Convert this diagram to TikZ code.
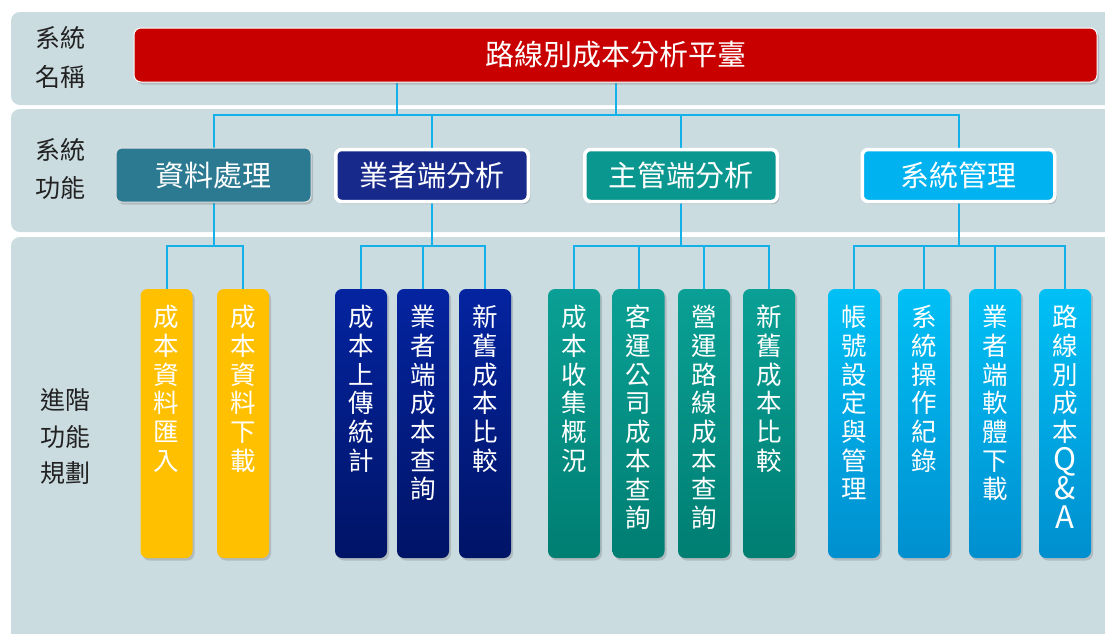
\documentclass[tikz,border=0pt]{standalone}
\usepackage{fontspec}
\newfontfamily\cjk{Noto Sans CJK TC}
\usetikzlibrary{shadows}
\definecolor{bandc}{HTML}{CBDCE1}
\definecolor{connc}{HTML}{14B0EA}
\definecolor{labc}{HTML}{222222}
\definecolor{redc}{HTML}{C90000}
\definecolor{lvA}{HTML}{2B7A92}
\definecolor{lvB}{HTML}{172A8C}
\definecolor{lvC}{HTML}{0A978F}
\definecolor{lvD}{HTML}{00B2F0}
\definecolor{yel}{HTML}{FFC000}
\definecolor{navyT}{HTML}{0424A0}
\definecolor{navyB}{HTML}{001466}
\definecolor{tealT}{HTML}{0AA095}
\definecolor{tealB}{HTML}{007E72}
\definecolor{skyT}{HTML}{00C0F5}
\definecolor{skyB}{HTML}{008FCF}
\pgfdeclarelayer{bg}
\pgfsetlayers{bg,main}
\newcommand\bigltr[1]{{\fontsize{31}{28.7}\selectfont #1}}
\tikzset{
  band/.style={fill=bandc, draw=none, rounded corners=9pt},
  conn/.style={draw=connc, line width=2pt},
  lab/.style={text=labc, align=center, inner sep=0pt},
  shad/.style={drop shadow={opacity=0.35, shadow xshift=2pt, shadow yshift=-2.5pt}},
  titlebox/.style={fill=redc, draw=white, line width=1pt, rounded corners=7pt,
    minimum width=963pt, minimum height=54pt, inner sep=0pt, text=white,
    font=\cjk\fontsize{29}{34}\selectfont, shad},
  lvtwo/.style={rounded corners=6pt, minimum height=54pt, inner sep=0pt, text=white,
    font=\cjk\fontsize{29}{34}\selectfont, shad},
  thick/.style={draw=white, line width=3.5pt, minimum width=192.5pt, minimum height=52pt},
  lvthree/.style={rounded corners=7pt, minimum width=52pt, minimum height=269pt, inner sep=0pt, shad},
  vtext/.style={font=\cjk\fontsize{25.5}{28.7}\selectfont, text=white, align=center,
    inner sep=0pt, anchor=north},
  yelbox/.style={lvthree, fill=yel},
  navybox/.style={lvthree, top color=navyT, bottom color=navyB},
  tealbox/.style={lvthree, top color=tealT, bottom color=tealB},
  skybox/.style={lvthree, top color=skyT, bottom color=skyB},
}
\begin{document}
\begin{tikzpicture}[x=1pt,y=-1pt]
\useasboundingbox (0,0) rectangle (1105,633);

% title
\node[titlebox] (top) at (615.5,55) {路線別成本分析平臺};

% level 2
\node[lvtwo, fill=lvA, draw=white!75!gray, line width=1pt, minimum width=195pt] (n1) at (213.5,175) {資料處理};
\node[lvtwo, thick, fill=lvB] (n2) at (432,175.5) {業者端分析};
\node[lvtwo, thick, fill=lvC] (n3) at (681,175.5) {主管端分析};
\node[lvtwo, thick, fill=lvD] (n4) at (958.5,175.5) {系統管理};

% level 3 boxes
\node[yelbox] (b1) at (166.5,423.5) {};
\node[yelbox] (b2) at (243,423.5) {};
\node[navybox] (b3) at (361,423.5) {};
\node[navybox] (b4) at (423,423.5) {};
\node[navybox] (b5) at (485,423.5) {};
\node[tealbox] (b6) at (574,423.5) {};
\node[tealbox] (b7) at (638.5,423.5) {};
\node[tealbox] (b8) at (704,423.5) {};
\node[tealbox] (b9) at (769,423.5) {};
\node[skybox] (b10) at (854,423.5) {};
\node[skybox] (b11) at (924,423.5) {};
\node[skybox] (b12) at (995,423.5) {};
\node[skybox] (b13) at (1065,423.5) {};

% level 3 texts
\node[vtext] (t1) at (166.5,305) {成\\本\\資\\料\\匯\\入};
\node[vtext] (t2) at (243,305) {成\\本\\資\\料\\下\\載};
\node[vtext] (t3) at (361,305) {成\\本\\上\\傳\\統\\計};
\node[vtext] (t4) at (423,305) {業\\者\\端\\成\\本\\查\\詢};
\node[vtext] (t5) at (485,305) {新\\舊\\成\\本\\比\\較};
\node[vtext] (t6) at (574,305) {成\\本\\收\\集\\概\\況};
\node[vtext] (t7) at (638.5,305) {客\\運\\公\\司\\成\\本\\查\\詢};
\node[vtext] (t8) at (704,305) {營\\運\\路\\線\\成\\本\\查\\詢};
\node[vtext] (t9) at (769,305) {新\\舊\\成\\本\\比\\較};
\node[vtext] (t10) at (854,305) {帳\\號\\設\\定\\與\\管\\理};
\node[vtext] (t11) at (924,305) {系\\統\\操\\作\\紀\\錄};
\node[vtext] (t12) at (995,305) {業\\者\\端\\軟\\體\\下\\載};
\node[vtext] (t13) at (1065,305) {路\\線\\別\\成\\本\\\bigltr{Q}\\\bigltr{\&}\\\bigltr{A}};

% left labels
\node[lab, font=\cjk\fontsize{25}{39}\selectfont] (l1) at (60,57) {系統\\名稱};
\node[lab, font=\cjk\fontsize{25}{38}\selectfont] (l2) at (60,169) {系統\\功能};
\node[lab, font=\cjk\fontsize{25}{36.5}\selectfont] (l3) at (65,437) {進階\\功能\\規劃};

% hub coordinates
\coordinate (h0) at (615.5,115);
\coordinate (hl) at (397,115);
\coordinate (g1) at (213.5,246);
\coordinate (g2) at (432,246);
\coordinate (g3) at (681,246);
\coordinate (g4) at (958.5,246);

\begin{pgfonlayer}{bg}
\begin{scope}
\clip (0,0) rectangle (1105,633);
\fill[white] (0,0) rectangle (1105,633);
\fill[band] (11,12) rectangle (1125,105);
\fill[band] (11,109) rectangle (1125,232);
\fill[band] (11,237) rectangle (1125,660);
\end{scope}
% title to level 2
\draw[conn] (top.south) -- (h0);
\draw[conn] (top.south -| hl) -- (hl);
\draw[conn] (n1.north) |- (h0) -| (n4.north);
\draw[conn] (n2.north) -- (n2.north |- h0);
\draw[conn] (n3.north) -- (n3.north |- h0);
% group 1
\draw[conn] (n1.south) -- (g1);
\draw[conn] (b1.north) -- (b1.north |- g1) -- (b2.north |- g1) -- (b2.north);
% group 2
\draw[conn] (n2.south) -- (g2);
\draw[conn] (b3.north) -- (b3.north |- g2) -- (b5.north |- g2) -- (b5.north);
\draw[conn] (b4.north) -- (b4.north |- g2);
% group 3
\draw[conn] (n3.south) -- (g3);
\draw[conn] (b6.north) -- (b6.north |- g3) -- (b9.north |- g3) -- (b9.north);
\draw[conn] (b7.north) -- (b7.north |- g3);
\draw[conn] (b8.north) -- (b8.north |- g3);
% group 4
\draw[conn] (n4.south) -- (g4);
\draw[conn] (b10.north) -- (b10.north |- g4) -- (b13.north |- g4) -- (b13.north);
\draw[conn] (b11.north) -- (b11.north |- g4);
\draw[conn] (b12.north) -- (b12.north |- g4);
\end{pgfonlayer}
\end{tikzpicture}
\end{document}
